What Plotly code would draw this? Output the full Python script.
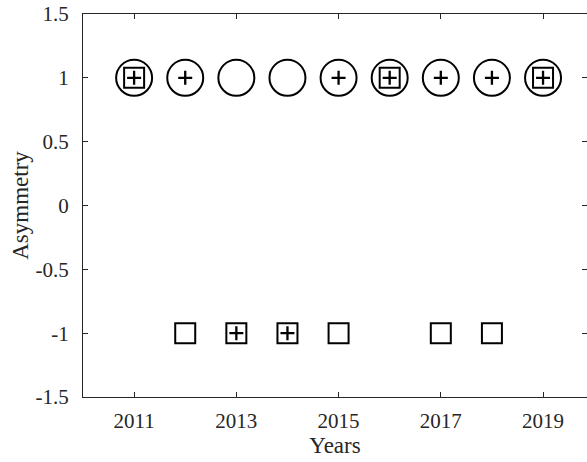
import plotly.graph_objects as go

# Asymmetry indicators per year
years = [2011, 2012, 2013, 2014, 2015, 2016, 2017, 2018, 2019]
circle_vals = [1, 1, 1, 1, 1, 1, 1, 1, 1]

plus_years = [2011, 2012, 2013, 2014, 2015, 2016, 2017, 2018, 2019]
plus_vals = [1, 1, -1, -1, 1, 1, 1, 1, 1]

square_years = [2011, 2012, 2013, 2014, 2015, 2016, 2017, 2018, 2019]
square_vals = [1, -1, -1, -1, -1, 1, -1, -1, 1]

x_ticks = [2011, 2013, 2015, 2017, 2019]
y_ticks = [-1.5, -1, -0.5, 0, 0.5, 1, 1.5]
y_tick_text = ["-1.5", "-1", "-0.5", "0", "0.5", "1", "1.5"]

font_family = "Liberation Serif"
ink = "#262626"

fig = go.Figure()
fig.add_trace(go.Scatter(
    x=years, y=circle_vals, mode="markers",
    marker=dict(symbol="circle-open", size=36, color="black", line=dict(width=2, color="black")),
    hoverinfo="x+y",
))
fig.add_trace(go.Scatter(
    x=square_years, y=square_vals, mode="markers",
    marker=dict(symbol="square-open", size=20, color="black", line=dict(width=2, color="black")),
    hoverinfo="x+y",
))
fig.add_trace(go.Scatter(
    x=plus_years, y=plus_vals, mode="markers",
    marker=dict(symbol="cross-thin-open", size=10, color="black", line=dict(width=2.3, color="black")),
    hoverinfo="x+y",
))

axis_common = dict(
    showline=True, linecolor=ink, linewidth=1, mirror="ticks",
    ticks="inside", ticklen=5, tickwidth=1, tickcolor=ink,
    showgrid=False, zeroline=False,
    tickfont=dict(family=font_family, size=21, color=ink),
)

fig.update_layout(
    width=587, height=462,
    margin=dict(l=83, r=0, t=14, b=65),
    paper_bgcolor="white", plot_bgcolor="white",
    showlegend=False,
    font=dict(family=font_family, color=ink),
    xaxis=dict(
        range=[2010, 2019.86], tickvals=x_ticks,
        ticktext=[str(t) for t in x_ticks],
        ticklabelstandoff=5,
        title=dict(text="Years", font=dict(family=font_family, size=23, color=ink), standoff=0),
        **axis_common,
    ),
    yaxis=dict(
        range=[-1.5, 1.5], tickvals=y_ticks, ticktext=y_tick_text,
        ticklabelstandoff=9,
        title=dict(text="Asymmetry", font=dict(family=font_family, size=23, color=ink), standoff=0),
        **axis_common,
    ),
)

fig.write_html("out.html")
